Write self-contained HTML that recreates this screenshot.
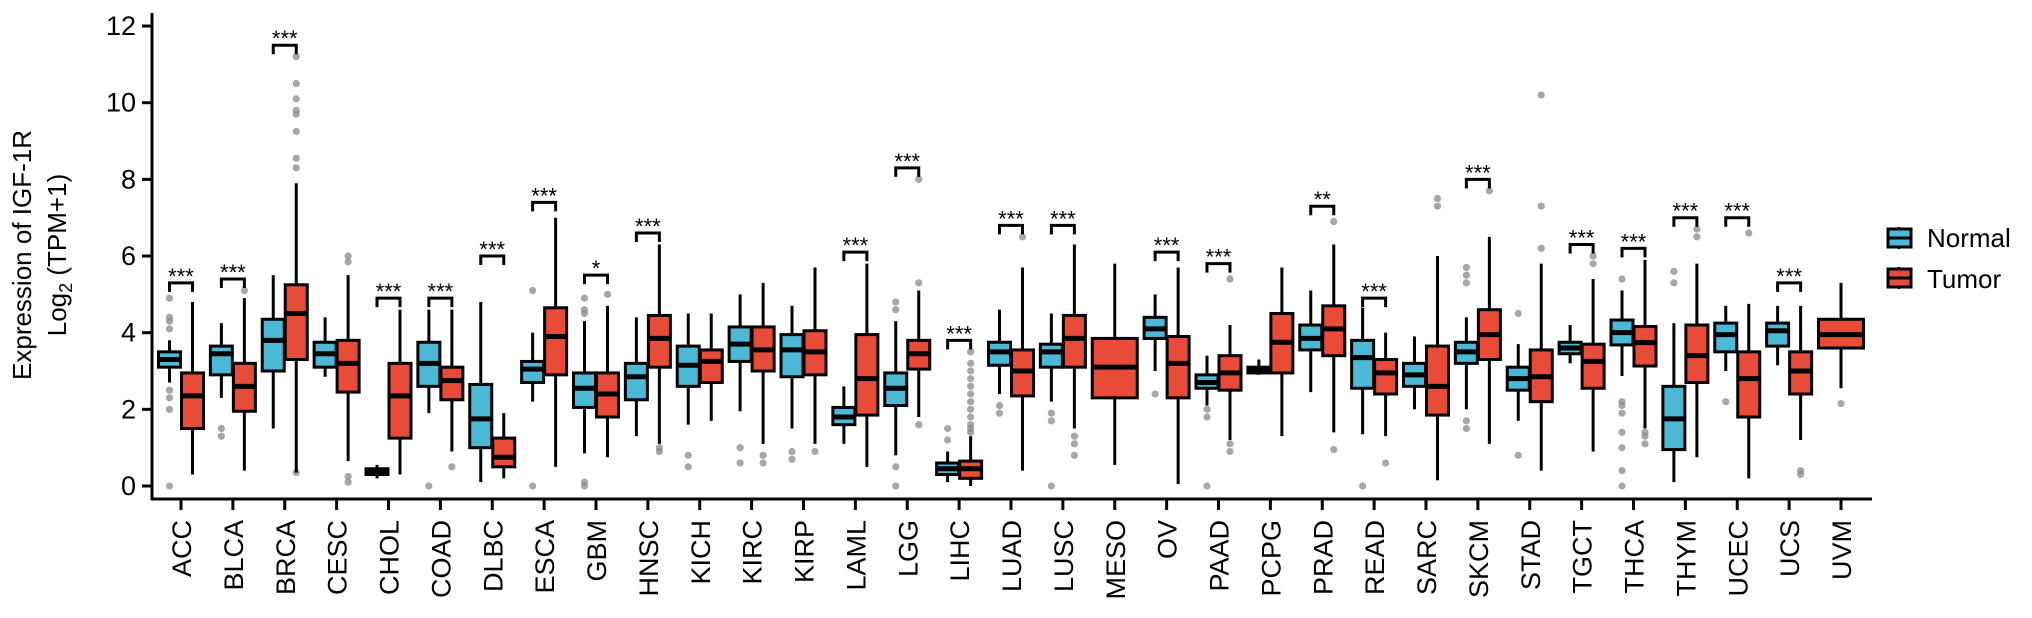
<!DOCTYPE html>
<html><head><meta charset="utf-8"><style>
body{margin:0;background:#fff}
svg{display:block;font-family:"Liberation Sans",Arial,sans-serif}
</style></head><body>
<svg id="chart" width="2032" height="618" viewBox="0 0 2032 618" xmlns="http://www.w3.org/2000/svg">
<g id="yaxis"></g>
<g id="xaxis"></g>
<g id="plot"></g>
<g font-size="26" fill="#000" text-anchor="middle">
<text transform="translate(31,255) rotate(-90)">Expression of IGF-1R</text>
<text transform="translate(66,255) rotate(-90)">Log<tspan font-size="18" dy="6">2</tspan><tspan dy="-6"> (TPM+1)</tspan></text>
</g>
<g>
<g>
<line x1="1899" y1="227" x2="1899" y2="249" stroke="#000" stroke-width="2.5"/>
<rect x="1888" y="229" width="23" height="18" fill="#4BB8D6" stroke="#000" stroke-width="3"/>
<line x1="1888" y1="238" x2="1911" y2="238" stroke="#000" stroke-width="3"/>
<text x="1927" y="247" font-size="26">Normal</text></g>
<g>
<line x1="1899" y1="267" x2="1899" y2="289" stroke="#000" stroke-width="2.5"/>
<rect x="1888" y="269" width="23" height="18" fill="#E84B37" stroke="#000" stroke-width="3"/>
<line x1="1888" y1="278" x2="1911" y2="278" stroke="#000" stroke-width="3"/>
<text x="1927" y="288" font-size="26">Tumor</text></g>
</g>
</svg>
<script>
const categories=["ACC","BLCA","BRCA","CESC","CHOL","COAD","DLBC","ESCA","GBM","HNSC","KICH","KIRC","KIRP","LAML","LGG","LIHC","LUAD","LUSC","MESO","OV","PAAD","PCPG","PRAD","READ","SARC","SKCM","STAD","TGCT","THCA","THYM","UCEC","UCS","UVM"];
// [q1, median, q3, whiskerLow, whiskerHigh]
const normalStats=[[3.1,3.3,3.5,2.7,3.8],[2.9,3.45,3.65,2.3,4.25],[3.0,3.8,4.35,1.5,5.5],[3.1,3.45,3.75,2.85,4.4],[0.3,0.38,0.45,0.2,0.55],[2.6,3.2,3.75,1.9,4.6],[1.0,1.75,2.65,0.1,4.8],[2.7,3.05,3.25,2.2,4.0],[2.05,2.55,2.95,0.85,4.3],[2.25,2.85,3.2,1.3,4.4],[2.6,3.15,3.65,1.6,4.5],[3.25,3.7,4.15,1.95,5.0],[2.85,3.55,3.95,1.5,4.7],[1.6,1.8,2.05,1.1,2.6],[2.1,2.55,2.95,0.8,4.3],[0.3,0.45,0.6,0.1,0.9],[3.15,3.5,3.75,2.4,4.6],[3.1,3.5,3.7,2.2,4.5],null,[3.85,4.1,4.4,3.0,5.0],[2.55,2.7,2.9,2.1,3.4],[2.95,3.0,3.1,2.9,3.3],[3.55,3.85,4.2,2.45,5.1],[2.55,3.35,3.8,1.35,4.65],[2.6,2.9,3.2,2.0,3.9],[3.2,3.5,3.75,2.0,4.4],[2.5,2.8,3.1,1.7,3.7],[3.45,3.6,3.75,3.2,4.2],[3.68,4.0,4.33,2.87,5.1],[0.95,1.75,2.6,0.1,4.25],[3.5,3.95,4.25,3.0,4.7],[3.65,4.05,4.25,3.15,4.7],null];
const tumorStats=[[1.5,2.35,2.95,0.3,4.8],[1.95,2.6,3.2,0.4,4.9],[3.3,4.5,5.25,0.35,7.9],[2.45,3.2,3.8,0.65,5.5],[1.25,2.35,3.2,0.3,4.6],[2.25,2.75,3.1,0.9,4.6],[0.5,0.75,1.25,0.2,1.9],[2.9,3.9,4.65,0.5,7.0],[1.8,2.4,2.95,0.75,4.7],[3.1,3.85,4.45,1.1,6.3],[2.7,3.25,3.55,1.7,4.5],[3.0,3.55,4.15,1.1,5.3],[2.9,3.5,4.05,1.1,5.7],[1.85,2.8,3.95,0.5,5.8],[3.05,3.45,3.8,1.8,5.1],[0.2,0.45,0.65,0.0,1.3],[2.35,3.0,3.55,0.4,5.7],[3.1,3.85,4.45,1.5,6.3],[2.3,3.1,3.85,0.55,5.8],[2.3,3.2,3.9,0.05,5.7],[2.5,2.95,3.4,1.2,4.2],[2.95,3.75,4.5,1.3,5.7],[3.4,4.1,4.7,1.4,6.3],[2.4,2.95,3.3,1.3,4.0],[1.85,2.6,3.65,0.15,6.0],[3.3,3.95,4.6,1.1,6.5],[2.2,2.85,3.55,0.4,5.8],[2.55,3.25,3.7,0.9,5.4],[3.13,3.74,4.16,1.5,5.9],[2.7,3.4,4.2,0.75,5.8],[1.8,2.8,3.5,0.2,4.75],[2.4,3.0,3.5,1.2,4.7],[3.6,3.95,4.35,2.55,5.3]];
const normalOutliers=[[4.9,4.4,4.3,4.1,2.5,2.3,2.0,0],[1.5,1.3],[],[],[],[0],[],[5.1,0],[4.9,4.6,4.5,0.1,0],[],[0.8,0.5],[1.0,0.6],[0.9,0.7],[],[4.8,4.6,0.5,0],[1.5,1.2],[2.1,1.9],[1.9,1.7,0],[],[2.4],[2.0,1.8,0],[],[],[0],[],[5.7,5.5,5.3,1.7,1.5],[4.5,0.8],[],[5.4,2.2,2.1,1.9,1.4,1.0,0.4,0],[5.6,5.3],[2.2],[],[]];
const tumorOutliers=[[],[5.1],[11.2,10.5,10.1,9.8,9.7,9.25,8.55,8.3,0.35],[6.0,5.85,0.25,0.1],[],[0.5],[],[],[5.0],[1.0,0.9],[],[0.8,0.6],[0.9],[],[8.0,5.3,1.6],[3.5,3.2,3.0,2.8,2.6,2.4,2.2,2.0,1.8,1.6,1.5,1.4],[6.5],[1.3,1.1,0.8],[],[],[5.4,1.1,0.9],[],[6.9,0.95],[0.6],[7.5,7.3],[7.7],[10.2,7.3,6.2],[6.0,5.8],[1.4,1.3,1.1],[6.7,6.5],[6.6],[0.4,0.3],[2.15]];
const sigLabels=["***","***","***","","***","***","***","***","*","***","","","","***","***","***","***","***","","***","***","","**","***","","***","","***","***","***","***","***",""];
const sigHeights=[5.3,5.4,11.5,0,4.9,4.9,6.0,7.4,5.5,6.6,0,0,0,6.1,8.3,3.8,6.8,6.8,0,6.1,5.8,0,7.3,4.9,0,8.0,0,6.3,6.2,7.0,7.0,5.3,0];
const yTicks=[0,2,4,6,8,10,12];

const NS="http://www.w3.org/2000/svg";
const X0=181,STEP=51.875,Y0=486,YS=38.33;
const xPos=i=>X0+i*STEP;
const yPos=v=>Y0-v*YS;
function mk(tag,attrs,parent){const e=document.createElementNS(NS,tag);for(const k in attrs)e.setAttribute(k,attrs[k]);parent.appendChild(e);return e;}
const ya=document.getElementById('yaxis'),xa=document.getElementById('xaxis'),plot=document.getElementById('plot');
mk('line',{x1:152,y1:13,x2:152,y2:500,stroke:'#000','stroke-width':3},ya);
yTicks.forEach(t=>{
  mk('line',{x1:142,y1:yPos(t),x2:152,y2:yPos(t),stroke:'#000','stroke-width':3},ya);
  const tx=mk('text',{x:136,y:yPos(t)+9,'text-anchor':'end','font-size':27},ya);
  
  
  tx.textContent=t;
});
mk('line',{x1:151,y1:499,x2:1872,y2:499,stroke:'#000','stroke-width':3},xa);
categories.forEach((c,i)=>{
  const x=xPos(i);
  mk('line',{x1:x,y1:499,x2:x,y2:510,stroke:'#000','stroke-width':3},xa);
  const tx=mk('text',{transform:`translate(${x+10},520) rotate(-90)`,'text-anchor':'end','font-size':27},xa);
  
  
  tx.textContent=c;
});
function drawBox(cx,w,s,outs,fill,name){
  const g=mk('g',{},plot);
  
  
  outs.forEach(o=>mk('circle',{cx:cx,cy:yPos(o),r:3.6,fill:'#8a8a8a','fill-opacity':0.75},g));
  mk('line',{x1:cx,y1:yPos(s[4]),x2:cx,y2:yPos(s[3]),stroke:'#000','stroke-width':3},g);
  mk('rect',{x:cx-w/2,y:yPos(s[2]),width:w,height:Math.max(yPos(s[0])-yPos(s[2]),1),fill:fill,stroke:'#000','stroke-width':3},g);
  mk('line',{x1:cx-w/2,y1:yPos(s[1]),x2:cx+w/2,y2:yPos(s[1]),stroke:'#000','stroke-width':5},g);
}
categories.forEach((c,i)=>{
  const x=xPos(i);
  const n=normalStats[i],t=tumorStats[i];
  if(n){
    drawBox(x-11.5,22,n,normalOutliers[i],'#4BB8D6','box-normal-'+c.toLowerCase());
    drawBox(x+11.5,22,t,tumorOutliers[i],'#E84B37','box-tumor-'+c.toLowerCase());
  } else {
    drawBox(x,45,t,tumorOutliers[i],'#E84B37','box-tumor-'+c.toLowerCase());
  }
  if(sigLabels[i]){
    const g=mk('g',{},plot);
    
    
    const y=yPos(sigHeights[i]);
    mk('path',{d:`M${x-11.5},${y+9} V${y} H${x+11.5} V${y+9}`,fill:'none',stroke:'#000','stroke-width':3},g);
    const tx=mk('text',{x:x,y:y+1,'text-anchor':'middle','font-size':22},g);
    tx.textContent=sigLabels[i];
  }
});
</script>
</body></html>
